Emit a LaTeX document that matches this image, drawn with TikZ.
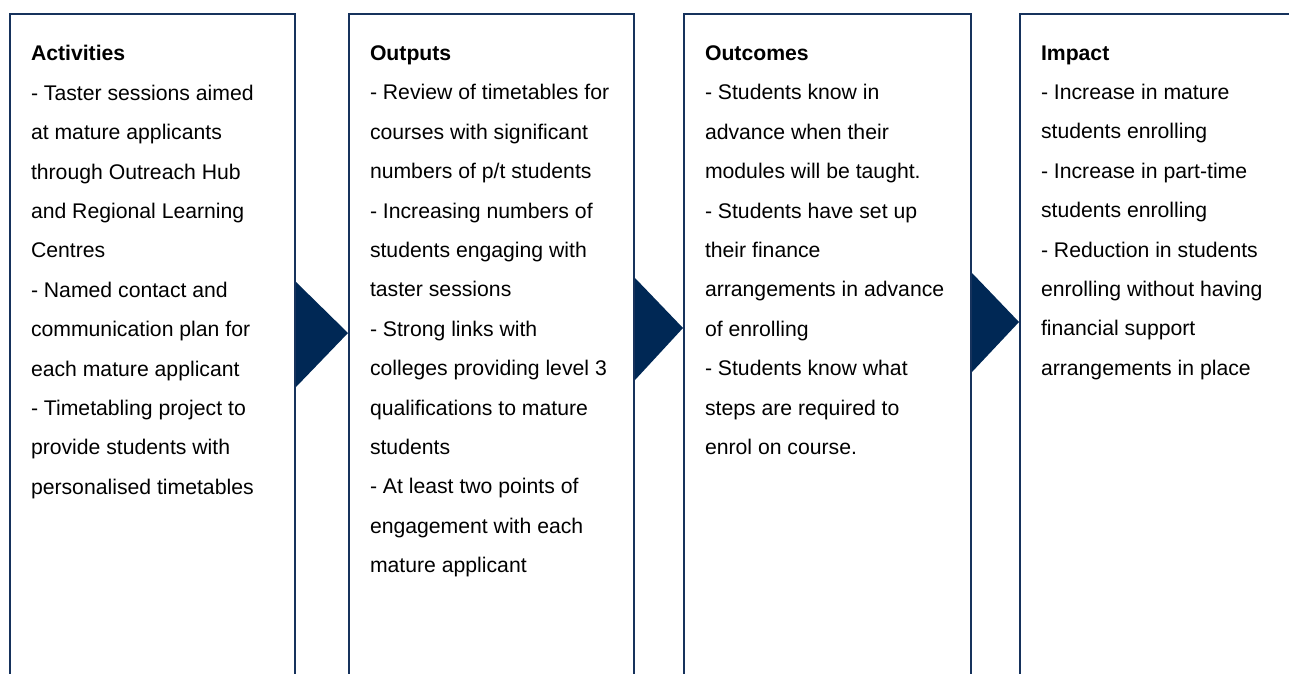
\documentclass[tikz,border=0pt]{standalone}
\usepackage{fontspec}
\setmainfont{Liberation Sans}
\usepackage{tikz}
\usetikzlibrary{positioning,calc}
\definecolor{boxline}{RGB}{22,50,92}
\definecolor{arrowfill}{RGB}{0,40,85}

\begin{document}
\begin{tikzpicture}[x=1pt,y=-1pt,line width=2pt,
                    font=\fontsize{21.2}{39.4}\selectfont]
  \tikzstyle{column}=[draw=boxline,rectangle,inner sep=0pt,anchor=north west,
                      minimum height=700pt]
  \tikzstyle{body}=[inner sep=0pt,anchor=north west,align=left,text=black]
  \tikzstyle{step arrow}=[fill=arrowfill,draw=none]

  \useasboundingbox (0,0) rectangle (1289,673);
  \clip (0,0) rectangle (1289,673);

  \node[column,minimum width=285pt] (act)  at (9,13)    {};
  \node[column,minimum width=285pt] (outp) at (348,13)  {};
  \node[column,minimum width=287pt] (outc) at (683,13)  {};
  \node[column,minimum width=300pt] (imp)  at (1019,13) {};

  \node[body] (acttext) at ([shift={(21,31.6)}]act.north west)
    {\textbf{Activities}\\
     - Taster sessions aimed\\
     at mature applicants\\
     through Outreach Hub\\
     and Regional Learning\\
     Centres\\
     - Named contact and\\
     communication plan for\\
     each mature applicant\\
     - Timetabling project to\\
     provide students with\\
     personalised timetables};
  \node[body] (outptext) at ([shift={(21,31.6)}]outp.north west)
    {\textbf{Outputs}\\
     - Review of timetables for\\
     courses with significant\\
     numbers of p/t students\\
     - Increasing numbers of\\
     students engaging with\\
     taster sessions\\
     - Strong links with\\
     colleges providing level 3\\
     qualifications to mature\\
     students\\
     - At least two points of\\
     engagement with each\\
     mature applicant};
  \node[body] (outctext) at ([shift={(21,31.6)}]outc.north west)
    {\textbf{Outcomes}\\
     - Students know in\\
     advance when their\\
     modules will be taught.\\
     - Students have set up\\
     their finance\\
     arrangements in advance\\
     of enrolling\\
     - Students know what\\
     steps are required to\\
     enrol on course.};
  \node[body] (imptext) at ([shift={(21,31.6)}]imp.north west)
    {\textbf{Impact}\\
     - Increase in mature\\
     students enrolling\\
     - Increase in part-time\\
     students enrolling\\
     - Reduction in students\\
     enrolling without having\\
     financial support\\
     arrangements in place};

  \fill[step arrow] ([yshift=-269pt]act.north east)
    -- ([yshift=-320pt]outp.north west) -- ([yshift=-374pt]act.north east) -- cycle;
  \fill[step arrow] ([yshift=-265pt]outp.north east)
    -- ([yshift=-315pt]outc.north west) -- ([yshift=-367pt]outp.north east) -- cycle;
  \fill[step arrow] ([yshift=-260pt]outc.north east)
    -- ([yshift=-309pt]imp.north west) -- ([yshift=-359pt]outc.north east) -- cycle;
\end{tikzpicture}
\end{document}
